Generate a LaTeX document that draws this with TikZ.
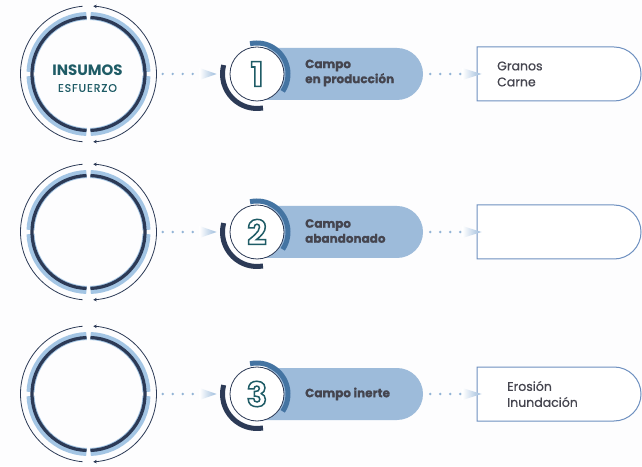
\documentclass[tikz,border=0pt]{standalone}
\usepackage{fontspec}
\setmainfont{Poppins}
\newfontfamily\popsp[LetterSpace=9,FakeBold=0.6]{Poppins}
\newfontfamily\popmed[FakeBold=0.7]{Poppins}
\newfontfamily\popbold[BoldFeatures={FakeBold=0.7}]{Poppins}
\usetikzlibrary{shapes.misc,arrows.meta,calc}
\definecolor{navyc}{HTML}{2C3A56}
\definecolor{steelc}{HTML}{4474A2}
\definecolor{pillc}{HTML}{9DBBDA}
\definecolor{bandc}{HTML}{A3C5E4}
\definecolor{tealc}{HTML}{1F5C66}
\definecolor{txtc}{HTML}{45454F}
\definecolor{boxc}{HTML}{6E90C0}
\definecolor{dotc}{HTML}{93B4D6}
\definecolor{arrc}{HTML}{9BBADB}
\definecolor{bgc}{HTML}{FDFDFE}
\newcommand\outlinetext[1]{\special{pdf:literal direct 1 Tr 1.5 w}#1\special{pdf:literal direct 0 Tr}}
\tikzset{
  bigc/.style={circle,minimum size=136pt,inner sep=0pt},
  numc/.style={circle,minimum size=54pt,inner sep=0pt,fill=white,draw=navyc,line width=0.8pt,text=tealc,font=\fontsize{34}{34}\selectfont\bfseries},
  pill/.style={rounded rectangle,rounded rectangle west arc=none,minimum width=166pt,minimum height=52pt,fill=pillc,inner sep=0pt},
  outbox/.style={rounded rectangle,rounded rectangle west arc=none,minimum width=164pt,minimum height=54pt,draw=boxc,line width=1pt,fill=white,inner sep=0pt},
  pilltext/.style={anchor=west,align=left,text=txtc,inner sep=0pt,font=\popbold\fontsize{12}{15}\selectfont\bfseries},
  boxtext/.style={anchor=west,align=left,text=txtc,inner sep=0pt,font=\popmed\fontsize{12.5}{16}\selectfont},
  dots/.style={draw=dotc,line width=2.6pt,line cap=round,dash pattern=on 0pt off 10pt},
  arrhead/.style={left color=white,right color=arrc},
  outring/.style={draw=navyc,line width=0.8pt},
  darkring/.style={draw=navyc,line width=3.2pt},
  bandring/.style={draw=bandc,line width=8pt},
  blueArc/.style={draw=steelc,line width=5pt},
  navyArc/.style={draw=navyc,line width=5pt}
}
\begin{document}
\begin{tikzpicture}[x=1pt,y=1pt]
\useasboundingbox (0,0) rectangle (642,466);
\fill[bgc] (0,0) rectangle (642,466);
\foreach \i/\yy/\dg in {1/392/1,2/234/2,3/72/3}{
  % big circle
  \node[bigc] (big\i) at (88.5,\yy) {};
  \foreach \a in {0,90,180,270}{
    \draw[bandring] ($(big\i.center)+(\a+2:58)$) arc[start angle=\a+2,end angle=\a+88,radius=58pt];
  }
  \draw[darkring] ($(big\i.center)+(-88:56.5)$) arc[start angle=-88,end angle=88,radius=56.5pt];
  \draw[darkring] ($(big\i.center)+(92:56.5)$) arc[start angle=92,end angle=268,radius=56.5pt];
  \draw[outring,{Stealth[length=3.5pt,width=3.5pt]}-{Stealth[length=3.5pt,width=3.5pt]}] ($(big\i.center)+(-86:68)$) arc[start angle=-86,end angle=86,radius=68pt];
  \draw[outring] ($(big\i.center)+(95:68)$) arc[start angle=95,end angle=265,radius=68pt];
  % pill and number circle
  \node[pill] (pill\i) at (340,\yy) {};
  \draw[blueArc] ($(257,\yy)+(103:31)$) arc[start angle=103,end angle=-34,radius=31pt];
  \draw[navyArc] ($(257,\yy)+(165:34.5)$) arc[start angle=165,end angle=280,radius=34.5pt];
  \node[numc] (num\i) at (257,\yy) {\outlinetext{\dg}};
  % output box
  \node[outbox] (box\i) at (559,\yy) {};
  % connectors
  \draw[dots,shorten <=6pt,shorten >=35pt] (big\i.east) -- (num\i.west);
  \path[arrhead] ($(num\i.west)+(-30,6)$) -- ($(num\i.west)+(-13,0)$) -- ($(num\i.west)+(-30,-6)$) -- cycle;
  \draw[dots,shorten <=7pt,shorten >=15pt] (pill\i.east) -- (box\i.west);
  \path[arrhead] ($(box\i.west)+(-14,6)$) -- ($(box\i.west)+(5,0)$) -- ($(box\i.west)+(-14,-6)$) -- cycle;
}
% texts in the big circle
\node[text=tealc,font=\fontsize{15}{15}\selectfont\bfseries,inner sep=0pt] (ins) at (87.5,396) {INSUMOS};
\node[text=tealc,font=\popsp\fontsize{11}{11}\selectfont,inner sep=0pt] (esf) at (87.5,378) {ESFUERZO};
% pill texts
\node[pilltext] (pt1) at (305,393) {Campo\\en producción};
\node[pilltext] (pt2) at (305,235) {Campo\\abandonado};
\node[pilltext] (pt3) at (305,72) {Campo inerte};
% box texts
\node[boxtext] (bt1) at (497,392) {Granos\\Carne};
\node[boxtext] (bt3) at (507,72) {Erosión\\Inundación};
\end{tikzpicture}
\end{document}
